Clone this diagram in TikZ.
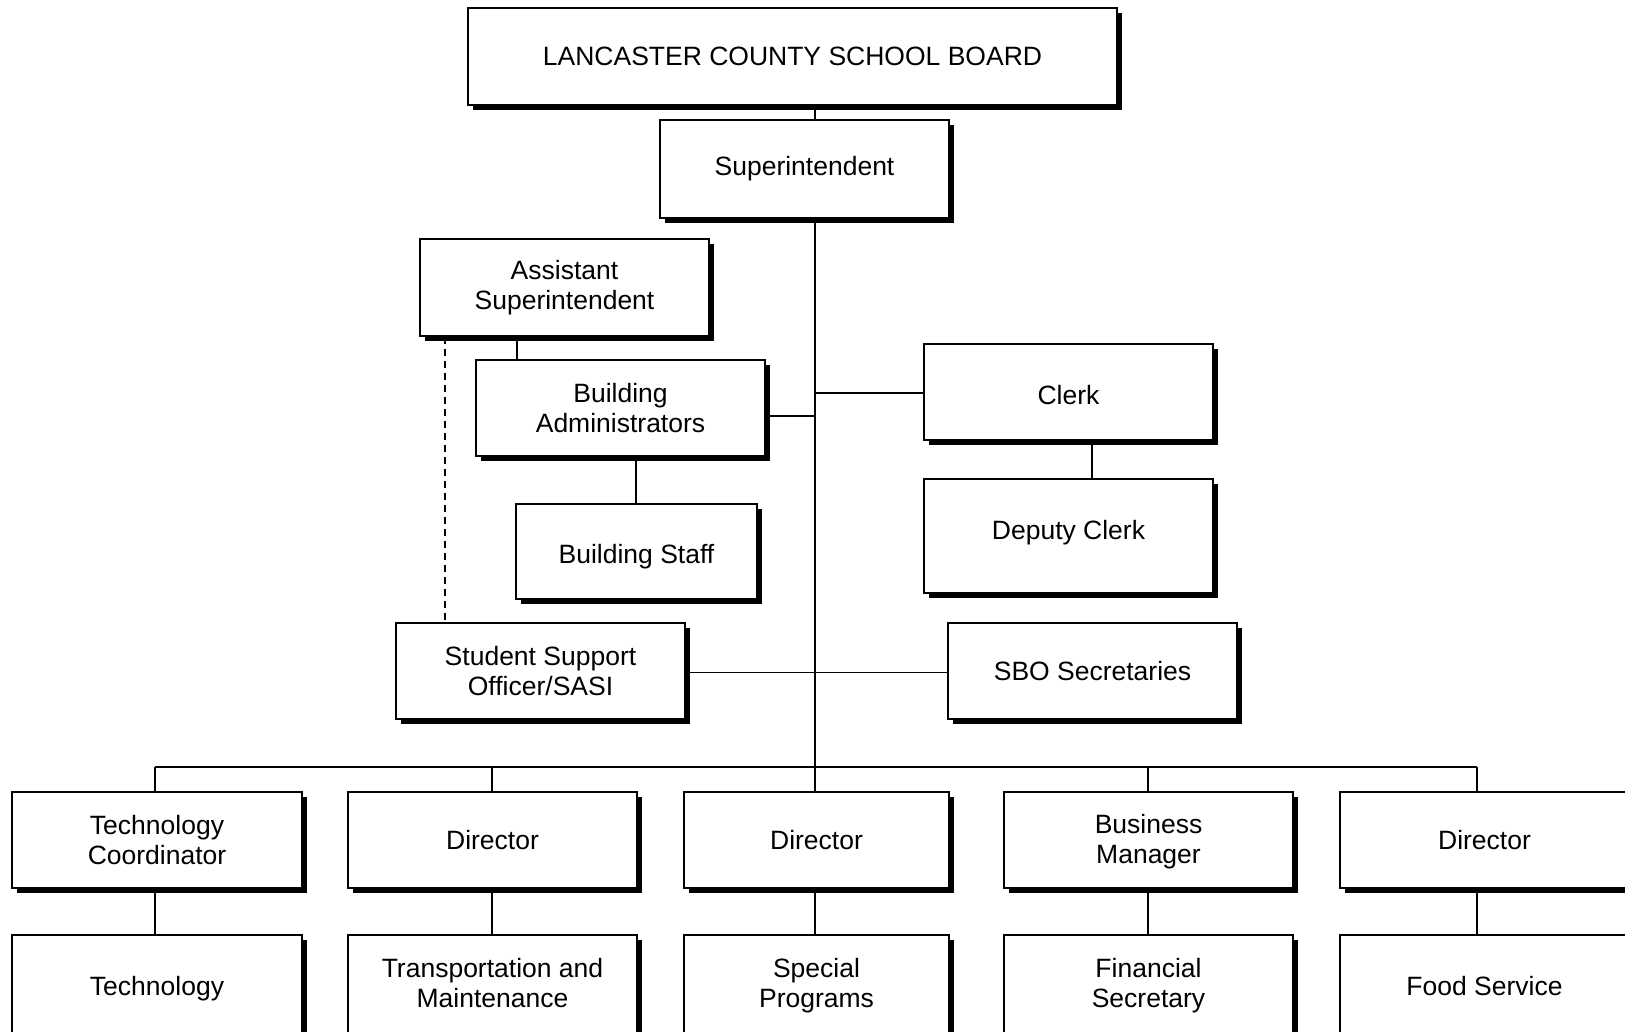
\documentclass[tikz,border=0pt]{standalone}
\usepackage{fontspec}
\setmainfont{Liberation Sans}
\usetikzlibrary{shadows}
\newcommand\padtop[1]{\rule{0pt}{#1}}
\newcommand\padbot[1]{\rule[-#1]{0pt}{0pt}}
\begin{document}
\begin{tikzpicture}[x=1pt,y=-1pt,
  orgbox/.style={draw=black, line width=1.2pt, fill=white, inner sep=0pt, align=center,
    font=\fontsize{26.5}{30}\selectfont,
    general shadow={fill=black, shadow xshift=5pt, shadow yshift=-5pt}},
  link/.style={line width=1.5pt, black},
  dotlink/.style={line width=1.5pt, black, dash pattern=on 7pt off 5pt}]
\useasboundingbox (0,0) rectangle (1625,1031);
\clip (0,0) rectangle (1625,1031);
\coordinate (spineTop) at (815,217);
\coordinate (bus) at (815,767);
% nodes
\node[orgbox, minimum width=649pt, minimum height=97pt] (board) at (792.5,56.5) {LANCASTER COUNTY SCHOOL BOARD};
\node[orgbox, minimum width=289pt, minimum height=98pt] (supt) at (804.5,169) {Superintendent};
\node[orgbox, minimum width=289pt, minimum height=97pt] (asst) at (564.5,287.5) {Assistant\\Superintendent};
\node[orgbox, minimum width=289pt, minimum height=96pt] (badm) at (620.5,408) {Building\\Administrators};
\node[orgbox, minimum width=241pt, minimum height=95pt] (bstaff) at (636.5,551.5) {\padtop{29.4pt}Building Staff};
\node[orgbox, minimum width=289pt, minimum height=96pt] (clerk) at (1068.5,392) {\padtop{25.4pt}Clerk};
\node[orgbox, minimum width=289pt, minimum height=114pt] (dclerk) at (1068.5,536) {Deputy Clerk\padbot{11.6pt}};
\node[orgbox, minimum width=289pt, minimum height=96pt] (sso) at (540.5,671) {Student Support\\Officer/SASI};
\node[orgbox, minimum width=289pt, minimum height=96pt] (sbo) at (1092.5,671) {SBO Secretaries};
% bottom rows
\node[orgbox, minimum width=290pt, minimum height=96pt] (tc) at (157,840) {Technology\\Coordinator};
\node[orgbox, minimum width=289pt, minimum height=96pt] (d1) at (492.5,840) {Director};
\node[orgbox, minimum width=265pt, minimum height=96pt] (d2) at (816.5,840) {Director};
\node[orgbox, minimum width=289pt, minimum height=96pt] (bm) at (1148.5,840) {\padtop{23.4pt}Business\\Manager};
\node[orgbox, minimum width=289pt, minimum height=96pt] (d3) at (1484.5,840) {Director};
\node[orgbox, minimum width=290pt, minimum height=102pt] (tech) at (157,986) {\padtop{25.4pt}Technology};
\node[orgbox, minimum width=289pt, minimum height=102pt] (trans) at (492.5,986) {Transportation and\\Maintenance\padbot{6pt}};
\node[orgbox, minimum width=265pt, minimum height=102pt] (spec) at (816.5,986) {Special\\Programs};
\node[orgbox, minimum width=289pt, minimum height=102pt] (fin) at (1148.5,986) {Financial\\Secretary};
\node[orgbox, minimum width=289pt, minimum height=102pt] (food) at (1484.5,986) {Food Service};
% connectors
\draw[link] (board.south -| spineTop) -- (supt.north -| spineTop);
\draw[link] (supt.south -| spineTop) -- (bus);
\draw[link] ([xshift=-47.5pt]asst.south) -- ([xshift=-47.5pt]asst.south |- badm.north);
\draw[dotlink] ([xshift=-119.5pt]asst.south) -- ([xshift=-119.5pt]asst.south |- sso.north);
\draw[link] ([yshift=-8pt]badm.east) -- ([yshift=-8pt]badm.east -| spineTop);
\draw[link] ([xshift=15.5pt]badm.south) -- ([xshift=15.5pt]badm.south |- bstaff.north);
\draw[link] ([yshift=-1pt]clerk.west) -- ([yshift=-1pt]clerk.west -| spineTop);
\draw[link] ([xshift=23.5pt]clerk.south) -- ([xshift=23.5pt]clerk.south |- dclerk.north);
\draw[link] ([yshift=-1.5pt]sso.east) -- ([yshift=-1.5pt]sbo.west);
\coordinate (busL) at (155,767);
\coordinate (busR) at (1477,767);
\draw[link] (busL) -- (busR);
\foreach \t/\b/\xx in {tc/tech/155, d1/trans/492, d2/spec/815, bm/fin/1148, d3/food/1477} {
  \draw[link] (\xx,767) -- (\t.north -| {(\xx,0)});
  \draw[link] (\t.south -| {(\xx,0)}) -- (\b.north -| {(\xx,0)});
}
\end{tikzpicture}
\end{document}
